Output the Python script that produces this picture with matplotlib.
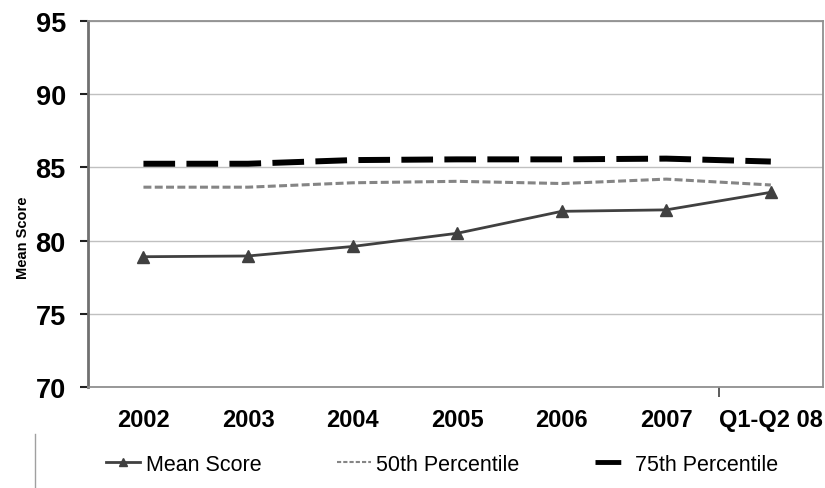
import matplotlib.pyplot as plt
from matplotlib.lines import Line2D

plt.rcParams['font.family'] = ['Liberation Sans', 'DejaVu Sans']

# data
periods = ['2002', '2003', '2004', '2005', '2006', '2007', 'Q1-Q2 08']
mean_score = [78.9, 78.95, 79.6, 80.5, 82.0, 82.1, 83.3]
pct50 = [83.65, 83.65, 83.95, 84.05, 83.9, 84.2, 83.8]
pct75 = [85.25, 85.25, 85.5, 85.55, 85.55, 85.6, 85.4]

x = list(range(len(periods)))

fig = plt.figure(figsize=(8.25, 4.89), dpi=100)
ax = fig.add_axes([0.1067, 0.2065, 0.891, 0.7485])

ax.plot(x, pct75, color='black', linewidth=4.3, linestyle=(0, (5.3, 1.9)),
        label='75th Percentile', zorder=3)
ax.plot(x, pct50, color='#858585', linewidth=2.2, linestyle=(0, (2.6, 1.1)),
        label='50th Percentile', zorder=3)
ax.plot(x, mean_score, color='#404040', linewidth=2, marker='^', markersize=8,
        label='Mean Score', zorder=4)

ax.set_ylim(70, 95)
ax.set_xlim(-0.53, 6.5)
ax.set_yticks([70, 75, 80, 85, 90, 95])
ax.yaxis.grid(True, color='#c0c0c0', linewidth=1)
ax.set_axisbelow(True)

ax.set_xticks(x)
ax.set_xticklabels(periods, fontsize=17, fontweight='bold')
ax.tick_params(axis='x', length=0, pad=15)
ax.set_xticks([5.5], minor=True)
ax.tick_params(axis='x', which='minor', length=7, color='#404040', width=1.2)

ax.tick_params(axis='y', length=6, width=1.5, color='#202020', pad=10, labelsize=19.5)
for t in ax.get_yticklabels():
    t.set_fontweight('bold')
ax.set_ylabel('Mean Score', fontsize=10.5, fontweight='bold')
ax.yaxis.set_label_coords(-0.079, 0.41)

for s in ['top', 'right', 'bottom']:
    ax.spines[s].set_color('#909090')
    ax.spines[s].set_linewidth(1.3)
ax.spines['left'].set_color('#707070')
ax.spines['left'].set_linewidth(2)

handles = [
    Line2D([], [], color='#404040', linewidth=2, marker='^', markersize=6),
    Line2D([], [], color='#858585', linewidth=1.5, linestyle=(0, (2, 1))),
    Line2D([], [], color='black', linewidth=3.5, linestyle=(0, (5.3, 10)),
           dash_capstyle='butt'),
]
fig.legend(handles, ['Mean Score', '50th Percentile', '75th Percentile'],
           loc='center left', bbox_to_anchor=(95 / 825, 0.049), ncol=3,
           frameon=False, borderpad=0, fontsize=15.5, handlelength=1.6,
           handletextpad=0.25, columnspacing=3.5)

fig.add_artist(Line2D([35 / 825, 35 / 825], [0, 54 / 489], color='#a0a0a0',
                      linewidth=1, transform=fig.transFigure))

fig.savefig('out.png', dpi=100)
